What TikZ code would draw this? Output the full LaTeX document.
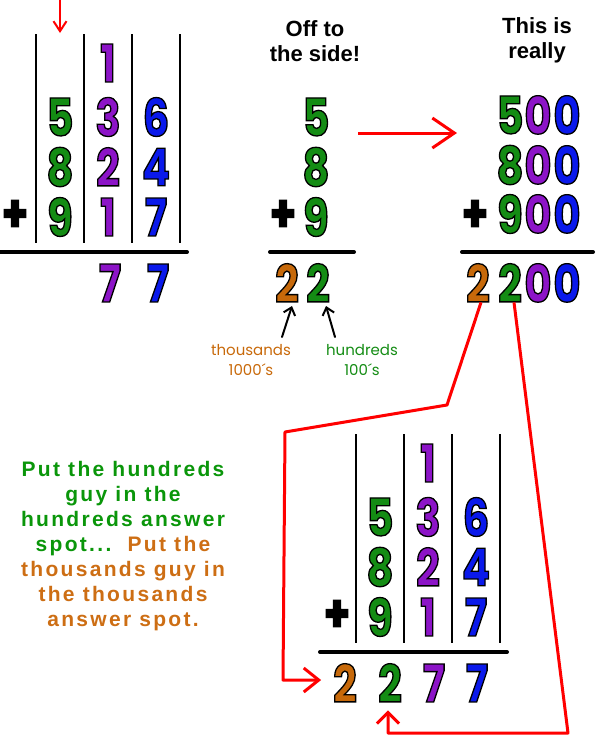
\documentclass[tikz,border=0pt]{standalone}
\usepackage{fontspec}
\setmainfont{Liberation Sans}
\newfontfamily\digitfont[FakeStretch=0.8, BoldFeatures={FakeBold=2.5}]{Poppins}
\newfontfamily\handfont{Poppins}
\usetikzlibrary{arrows.meta,positioning}
\definecolor{dgreen}{RGB}{20,140,20}
\definecolor{dorange}{RGB}{200,105,10}
\definecolor{tgreen}{RGB}{10,150,10}
\definecolor{torange}{RGB}{205,110,20}
% fill colour of a digit, black rim
\def\cg{0.08 0.55 0.08}
\def\cp{0.55 0.08 0.78}
\def\cb{0.04 0.10 0.92}
\def\co{0.78 0.41 0.04}
\def\ck{0 0 0}
\newcommand{\dg}[2]{\special{pdf:bcolor [#1] [0 0 0]}#2\special{pdf:ecolor}}
\tikzstyle{digit}   =[inner sep=0pt, outer sep=0pt,
                      font=\digitfont\bfseries\fontsize{52}{52}\selectfont]
\tikzstyle{rule}    =[line width=4pt, line cap=round]
\tikzstyle{colline} =[line width=1.6pt]
\tikzstyle{redarrow}=[draw=red, line width=3pt, line join=round,
                      -{Straight Barb[length=15pt, width=24pt]}]
\tikzstyle{tagarrow}=[line width=2pt, line cap=round,
                      -{Straight Barb[length=7pt, width=12pt]}]
\tikzstyle{heading} =[inner sep=0pt, align=center,
                      font=\bfseries\fontsize{22}{25}\selectfont]
\tikzstyle{hand}    =[inner sep=0pt, align=center,
                      font=\handfont\fontsize{15}{20}\selectfont]

\begin{document}
\begin{tikzpicture}[x=1pt, y=-1pt, node distance=50pt and 48pt, on grid]
    \useasboundingbox (0,0) rectangle (595,737);
    % column addition, first try
    \foreach \x in {36,84,132,180}
        \draw[colline] (\x,34) -- (\x,243);
    \node[digit] (a1) at (108,63) {\dg\cp{1}};
    \node[digit] (a5) at (60,117) {\dg\cg{5}};
    \node[digit] (a3) [right= of a5] {\dg\cp{3}};
    \node[digit] (a6) [right= of a3] {\dg\cb{6}};
    \node[digit] (a8) [below= of a5] {\dg\cg{8}};
    \node[digit] (a2) [right= of a8] {\dg\cp{2}};
    \node[digit] (a4) [right= of a2] {\dg\cb{4}};
    \node[digit] (a9) [below= of a8] {\dg\cg{9}};
    \node[digit] (a7) [right= of a9] {\dg\cp{1}};
    \node[digit] (a0) [right= of a7] {\dg\cb{7}};
    \node[digit] (ap) at (15,216) {\dg\ck{+}};
    \draw[rule] (0,252) -- (187,252);
    \node[digit] (as) at (110,283) {\dg\cp{7}};
    \node[digit] (au) [right= of as] {\dg\cb{7}};
    \coordinate (down) at (60,0);
    \coordinate (col) at (60,33);
    \draw[redarrow, line width=2pt, -{Straight Barb[length=10pt, width=13pt]}] (down) -- (col);

    % off to the side
    \node[heading] (side) at (315,41) {Off to\\the side!};
    \node[digit] (m5) at (316,117) {\dg\cg{5}};
    \node[digit] (m8) [below= of m5] {\dg\cg{8}};
    \node[digit] (m9) [below= of m8] {\dg\cg{9}};
    \node[digit] (mp) at (283,216) {\dg\ck{+}};
    \draw[rule] (270,252) -- (354,252);
    \node[digit] (mt) at (287,283) {\dg\co{2}};
    \node[digit] (mh) at (318,283) {\dg\cg{2}};
    \node[hand, text=dorange] (th) at (251,360) {thousands\\1000´s};
    \node[hand, text=dgreen] (hu) at (362,360) {hundreds\\100´s};
    \coordinate (tht) at (282,337);
    \coordinate (hut) at (335,337);
    \draw[tagarrow] (tht) -- (292,306);
    \draw[tagarrow] (hut) -- (326,306);

    % this is really
    \coordinate (go) at (358,133);
    \coordinate (come) at (457,133);
    \draw[redarrow, -{Straight Barb[length=22pt, width=30pt]}] (go) -- (come);
    \node[heading] (real) at (537,40) {This is\\really};
    \node[digit] (r5) at (510,115) {\dg\cg{5}};
    \node[digit] (r50) at (538,115) {\dg\cp{0}};
    \node[digit] (r500) at (567,115) {\dg\cb{0}};
    \node[digit] (r8) at (510,165) {\dg\cg{8}};
    \node[digit] (r80) at (538,165) {\dg\cp{0}};
    \node[digit] (r800) at (567,165) {\dg\cb{0}};
    \node[digit] (r9) at (510,214) {\dg\cg{9}};
    \node[digit] (r90) at (538,214) {\dg\cp{0}};
    \node[digit] (r900) at (567,214) {\dg\cb{0}};
    \node[digit] (rp) at (475,216) {\dg\ck{+}};
    \draw[rule] (462,252) -- (593,252);
    \node[digit] (rt) at (478,283) {\dg\co{2}};
    \node[digit] (rh) at (510,283) {\dg\cg{2}};
    \node[digit] (rz) at (538,283) {\dg\cp{0}};
    \node[digit] (rzz) at (567,283) {\dg\cb{0}};

    % the words
    \node[inner sep=0pt, align=center,
          font=\bfseries\fontsize{21}{25}\selectfont\addfontfeature{LetterSpace=11}]
        (say) at (123,546)
        {\color{tgreen}Put the hundreds\\ \color{tgreen}guy in the\\
         \color{tgreen}hundreds answer\\ \color{tgreen}spot...\ \ \color{torange}Put the\\
         \color{torange}thousands guy in\\ \color{torange}the thousands\\
         \color{torange}answer spot.};

    % column addition, done
    \begin{scope}[shift={(320,400)}]
        \foreach \x in {36,84,132,180}
            \draw[colline] (\x,34) -- (\x,243);
        \node[digit] (b1) at (108,63) {\dg\cp{1}};
        \node[digit] (b5) at (60,117) {\dg\cg{5}};
        \node[digit] (b3) [right= of b5] {\dg\cp{3}};
        \node[digit] (b6) [right= of b3] {\dg\cb{6}};
        \node[digit] (b8) [below= of b5] {\dg\cg{8}};
        \node[digit] (b2) [right= of b8] {\dg\cp{2}};
        \node[digit] (b4) [right= of b2] {\dg\cb{4}};
        \node[digit] (b9) [below= of b8] {\dg\cg{9}};
        \node[digit] (b7) [right= of b9] {\dg\cp{1}};
        \node[digit] (b0) [right= of b7] {\dg\cb{7}};
        \node[digit] (bp) at (17,216) {\dg\ck{+}};
        \draw[rule] (0,252) -- (187,252);
        \node[digit] (bt) at (25,283) {\dg\co{2}};
        \node[digit] (bh) at (70,283) {\dg\cg{2}};
        \node[digit] (bs) at (114,283) {\dg\cp{7}};
        \node[digit] (bu) at (157,283) {\dg\cb{7}};
    \end{scope}

    % carry the guys down
    \coordinate (k1) at (447,405);
    \coordinate (k2) at (285,432);
    \coordinate (k3) at (283,680);
    \coordinate (k4) at (568,733);
    \coordinate (k5) at (388,733);
    \draw[redarrow, shorten >=12pt] ([xshift=3pt]rt.south) -- (k1) -- (k2) -- (k3) -- (bt.west |- k3);
    \draw[redarrow, shorten >=8pt, -{Straight Barb[length=11pt, width=22pt]}]
        ([xshift=4pt]rh.south) -- (k4) -- (k5) -- (k5 |- bh.south);
\end{tikzpicture}
\end{document}
